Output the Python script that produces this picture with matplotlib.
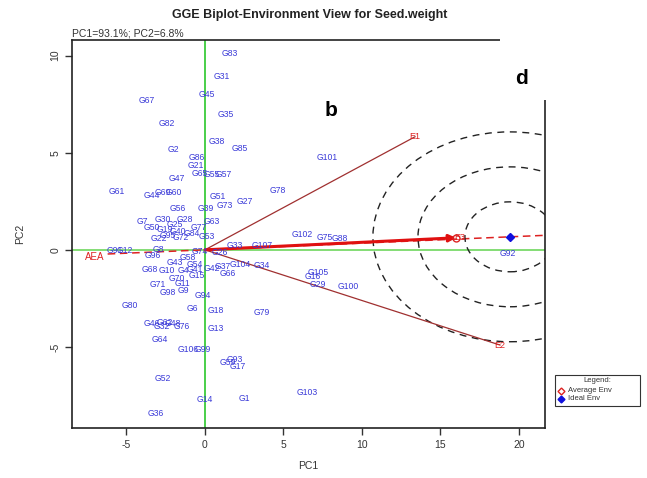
import matplotlib
matplotlib.use("Agg")
import matplotlib.pyplot as plt
from matplotlib.patches import Ellipse, Rectangle
import numpy as np

plt.rcParams['font.family'] = ['Liberation Sans', 'DejaVu Sans']
plt.rcParams['axes.unicode_minus'] = False

# ---- data -------------------------------------------------------------
gen_names = ["G83", "G31", "G45", "G67", "G35", "G82", "G38", "G85", "G2", "G86",
             "G21", "G65", "G55", "G57", "G47", "G101", "G61", "G44", "G69", "G60",
             "G51", "G78", "G73", "G27", "G56", "G39", "G7", "G30", "G28", "G63",
             "G25", "G77", "G50", "G19", "G40", "G22", "G72", "G95", "G84", "G53",
             "G8", "G91", "G12", "G96", "G74", "G26", "G33", "G107", "G102", "G75",
             "G88", "G92", "G58", "G43", "G54", "G42", "G37", "G104", "G34", "G66",
             "G68", "G10", "G4", "G41", "G15", "G70", "G71", "G11", "G98", "G9",
             "G94", "G105", "G16", "G29", "G100", "G80", "G6", "G18", "G79", "G13",
             "G46", "G62", "G32", "G48", "G76", "G64", "G106", "G99", "G93", "G59",
             "G17", "G52", "G14", "G1", "G103", "G36"]
gen_pc1 = [1.59, 1.08, 0.13, -3.69, 1.34, -2.42, 0.76, 2.23, -2.04, -0.51,
           -0.57, -0.32, 0.45, 1.21, -1.78, 7.77, -5.61, -3.38, -2.68, -1.97,
           0.83, 4.65, 1.27, 2.55, -1.72, 0.06, -4.01, -2.68, -1.27, 0.45,
           -1.91, -0.38, -3.38, -2.55, -1.72, -2.93, -1.53, -2.36, -0.83, 0.13,
           -2.99, -5.73, -5.10, -3.31, -0.32, 0.96, 1.91, 3.63, 6.18, 7.64,
           8.60, 19.30, -1.08, -1.91, -0.64, 0.45, 1.15, 2.23, 3.63, 1.46,
           -3.50, -2.42, -1.40, -0.64, -0.51, -1.78, -2.99, -1.46, -2.36, -1.40,
           -0.13, 7.20, 6.88, 7.20, 9.11, -4.78, -0.83, 0.70, 3.63, 0.70,
           -3.38, -2.55, -2.74, -2.04, -1.46, -2.87, -1.08, -0.13, 1.91, 1.46,
           2.10, -2.68, 0.00, 2.48, 6.50, -3.12]
gen_pc2 = [10.10, 8.92, 7.99, 7.68, 6.96, 6.49, 5.57, 5.21, 5.15, 4.74,
           4.33, 3.92, 3.87, 3.87, 3.66, 4.74, 2.99, 2.78, 2.94, 2.94,
           2.73, 3.04, 2.27, 2.47, 2.11, 2.11, 1.44, 1.55, 1.55, 1.44,
           1.29, 1.13, 1.13, 1.03, 0.93, 0.57, 0.62, 0.72, 0.82, 0.67,
           0.00, -0.05, -0.05, -0.31, -0.10, -0.15, 0.21, 0.21, 0.77, 0.62,
           0.57, -0.21, -0.41, -0.67, -0.77, -0.98, -0.88, -0.77, -0.82, -1.24,
           -1.03, -1.08, -1.08, -1.03, -1.34, -1.49, -1.80, -1.75, -2.22, -2.11,
           -2.37, -1.19, -1.39, -1.80, -1.91, -2.89, -3.04, -3.14, -3.20, -4.07,
           -3.81, -3.76, -3.97, -3.81, -3.97, -4.64, -5.15, -5.15, -5.62, -5.82,
           -6.03, -6.60, -7.68, -7.63, -7.32, -8.40]

env_names = ["E1", "E2"]
env_pc1 = [13.38, 18.79]
env_pc2 = [5.82, -4.90]

avg_env_name = "E3"
avg_env = (16.0, 0.62)
ideal_env = (19.43, 0.67)
ring_rx = [2.87, 5.86, 8.73]
ring_ry = [1.80, 3.60, 5.40]

x_ticks = [-5, 0, 5, 10, 15, 20]
y_ticks = [-5, 0, 5, 10]

# ---- figure -----------------------------------------------------------
W, H = 647, 478
fig = plt.figure(figsize=(W / 100, H / 100), dpi=100)
ax = fig.add_axes([72 / W, 1 - 428 / H, (545 - 72) / W, (428 - 40) / H])
ax.set_xlim(-8.47, 21.66)
ax.set_ylim(-9.17, 10.8)

# axes lines through origin
ax.axvline(0, color='#3ccc3c', lw=1.3, zorder=1)
ax.axhline(0, color='#7ada6a', lw=1.3, zorder=1)

# AEA dashed line
slope = ideal_env[1] / ideal_env[0]
xs = np.array([-6.2, 23])
ax.plot(xs, slope * xs, color='#dd2222', ls=(0, (5, 3)), lw=1.1, zorder=2)
ax.text(-7.0, -0.36, "AEA", color='#dd2222', fontsize=7, ha='center', va='center')

# concentric rings around ideal env
for rx, ry in zip(ring_rx, ring_ry):
    ax.add_patch(Ellipse(ideal_env, 2 * rx, 2 * ry, fill=False, ec='#222222',
                         ls=(0, (5, 4)), lw=1.0, zorder=2))

# environment vectors
for n, x, y in zip(env_names, env_pc1, env_pc2):
    ax.plot([0, x], [0, y], color='#a03030', lw=0.9, zorder=3)
    ax.text(x, y, n, color='#dd2222', fontsize=6.5, ha='center', va='center', zorder=5)

# average environment arrow
ax.annotate("", xy=avg_env, xytext=(0, 0),
            arrowprops=dict(arrowstyle='-|>', color='#e01010', lw=2.2,
                            mutation_scale=10, shrinkA=0, shrinkB=0), zorder=4)
ax.text(avg_env[0] + 0.25, avg_env[1], avg_env_name, color='#dd2222', fontsize=6.5,
        ha='center', va='center', zorder=5)
ax.plot(*avg_env, marker='o', mfc='none', mec='#dd2222', ms=5, zorder=5)
ax.plot(*ideal_env, marker='D', color='#1010dd', ms=4, zorder=5)

# genotypes
for n, x, y in zip(gen_names, gen_pc1, gen_pc2):
    ax.text(x, y, n, color='#3a3ad8', fontsize=6.2, ha='center', va='center', zorder=6)

ax.set_xticks(x_ticks)
ax.set_yticks(y_ticks)
ax.tick_params(labelsize=7.5, length=5, width=1, color='#333333', labelcolor='#333333')
for lab in ax.get_yticklabels():
    lab.set_rotation(90)
    lab.set_va('center')
for s in ax.spines.values():
    s.set_color('#222222')
    s.set_linewidth(1.2)

ax.set_xlabel("PC1", fontsize=7.5, color='#333333', labelpad=8)
ax.set_ylabel("PC2", fontsize=7.5, color='#333333', labelpad=18)

fig.text(310 / W, 1 - 15 / H, "GGE Biplot-Environment View for Seed.weight",
         fontsize=9, fontweight='bold', ha='center', va='center', color='#222222')
fig.text(72 / W, 1 - 33 / H, "PC1=93.1%; PC2=6.8%", fontsize=7.5,
         ha='left', va='center', color='#333333')

# panel letters
fig.patches.append(Rectangle((500 / W, 1 - 100 / H), 50 / W, 64 / H,
                             transform=fig.transFigure, fc='white', ec='none', zorder=10))
fig.text(522 / W, 1 - 78 / H, "d", fontsize=15, fontweight='bold', ha='center',
         va='center', zorder=11)
fig.text(331 / W, 1 - 110 / H, "b", fontsize=15, fontweight='bold', ha='center',
         va='center', zorder=11)

# legend box
lx0, ly0, lx1, ly1 = 555, 375, 640, 406
fig.patches.append(Rectangle((lx0 / W, 1 - ly1 / H), (lx1 - lx0) / W, (ly1 - ly0) / H,
                             transform=fig.transFigure, fc='white', ec='#333333', lw=0.8))
fig.text(597 / W, 1 - 381 / H, "Legend:", fontsize=5.5, ha='center', va='center', color='#333333')
fig.text(568 / W, 1 - 391 / H, "Average Env", fontsize=5.5, ha='left', va='center', color='#333333')
fig.text(568 / W, 1 - 399 / H, "Ideal Env", fontsize=5.5, ha='left', va='center', color='#333333')
fig.lines.append(plt.Line2D([561 / W], [1 - 391 / H], marker='D', mfc='none', mec='#dd2222',
                            ms=3.5, transform=fig.transFigure))
fig.lines.append(plt.Line2D([561 / W], [1 - 399 / H], marker='D', color='#1010dd',
                            ms=3.5, transform=fig.transFigure))

fig.savefig("out.png", dpi=100)
